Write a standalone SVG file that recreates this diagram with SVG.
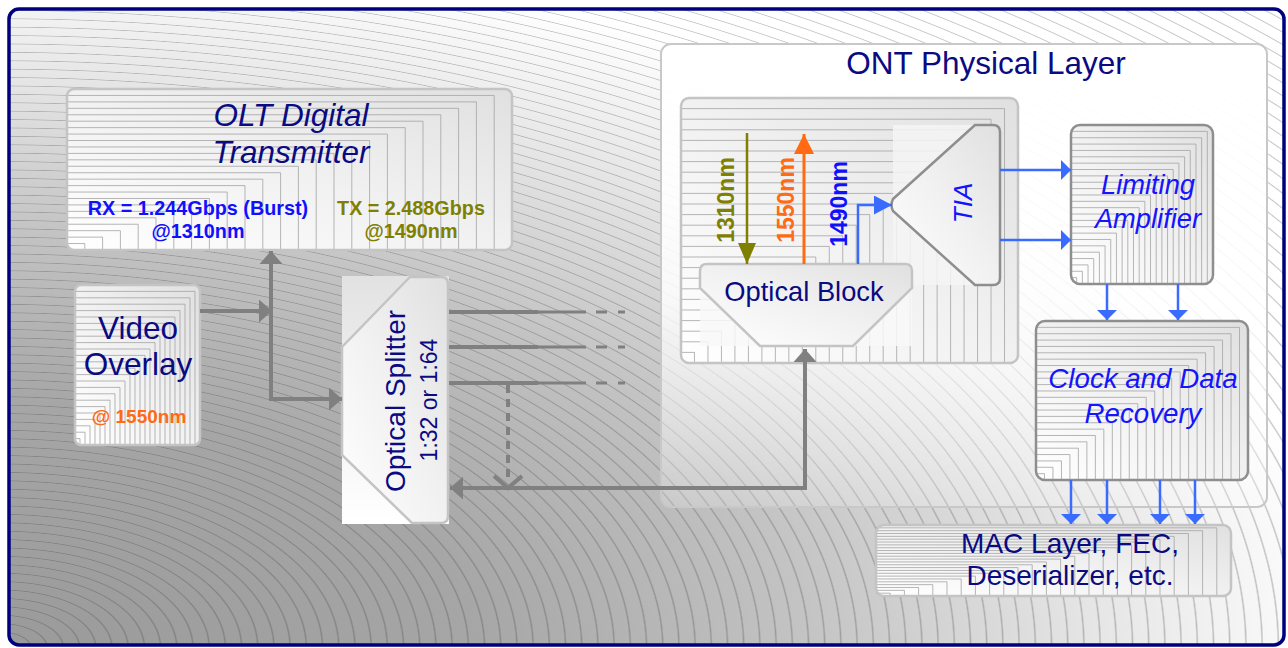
<svg xmlns="http://www.w3.org/2000/svg" width="1288" height="648" viewBox="0 0 1288 648">
<defs>
<radialGradient id="bg" gradientUnits="userSpaceOnUse" cx="0" cy="0" r="1" gradientTransform="translate(0,648) scale(1350,700)">
<stop offset="0" stop-color="#9a9a9a"/>
<stop offset="0.35" stop-color="#a6a6a6"/>
<stop offset="0.6" stop-color="#c4c4c4"/>
<stop offset="0.8" stop-color="#e4e4e4"/>
<stop offset="1" stop-color="#ffffff"/>
</radialGradient>
<radialGradient id="rings" gradientUnits="userSpaceOnUse" cx="0" cy="0" r="0.012" spreadMethod="repeat" gradientTransform="translate(0,648) scale(1350,700)">
<stop offset="0" stop-color="#404040" stop-opacity="0"/>
<stop offset="0.82" stop-color="#404040" stop-opacity="0"/>
<stop offset="0.91" stop-color="#404040" stop-opacity="0.3"/>
<stop offset="1" stop-color="#404040" stop-opacity="0"/>
</radialGradient>
<linearGradient id="boxg" x1="0" y1="1" x2="1" y2="0">
<stop offset="0" stop-color="#ffffff"/>
<stop offset="0.5" stop-color="#f1f1f1"/>
<stop offset="1" stop-color="#e0e0e0"/>
</linearGradient>
<linearGradient id="vert" x1="0" y1="0" x2="0" y2="1">
<stop offset="0" stop-color="#e2e2e2"/>
<stop offset="1" stop-color="#ffffff"/>
</linearGradient>
<linearGradient id="ontg" x1="0" y1="0" x2="0" y2="1">
<stop offset="0" stop-color="#ffffff" stop-opacity="1"/>
<stop offset="0.55" stop-color="#ffffff" stop-opacity="0.85"/>
<stop offset="1" stop-color="#ffffff" stop-opacity="0.2"/>
</linearGradient>
<symbol id="nest" viewBox="0 0 100 100" preserveAspectRatio="none" overflow="hidden">
<path d="M0,4H96V100M0,8H92V100M0,12H88V100M0,16H84V100M0,20H80V100M0,24H76V100M0,28H72V100M0,32H68V100M0,36H64V100M0,40H60V100M0,44H56V100M0,48H52V100M0,52H48V100M0,56H44V100M0,60H40V100M0,64H36V100M0,68H32V100M0,72H28V100M0,76H24V100M0,80H20V100M0,84H16V100M0,88H12V100M0,92H8V100M0,96H4V100" fill="none" stroke="#a4a4a4" stroke-opacity="0.8" stroke-width="1" vector-effect="non-scaling-stroke"/>
</symbol>
<clipPath id="cpSplit"><path d="M342,347 L410,277 L441,277 Q448,277 448,284 L448,516 Q448,523 441,523 L412,523 L342,455 Z"/></clipPath>
<clipPath id="cpTia"><path d="M893,199 L975,125 L993,125 Q1000,125 1000,132 L1000,278 Q1000,285 993,285 L975,285 L893,211 Q890,205 893,199 Z"/></clipPath>
<clipPath id="cpOb"><path d="M707,264 L905,264 Q912,264 912,271 L912,288 L853,346 L760,346 L700,288 L700,271 Q700,264 707,264 Z"/></clipPath>
<marker id="ag" markerUnits="userSpaceOnUse" markerWidth="13" markerHeight="23" refX="13" refY="11.5" orient="auto-start-reverse">
<path d="M0,0 L13,11.5 L0,23 Z" fill="#808080"/>
</marker>
<marker id="ab" markerUnits="userSpaceOnUse" markerWidth="10" markerHeight="20" refX="10" refY="10" orient="auto">
<path d="M0,0 L10,10 L0,20 Z" fill="#3a6bff"/>
</marker>
<marker id="ab2" markerUnits="userSpaceOnUse" markerWidth="18" markerHeight="19" refX="18" refY="9.5" orient="auto">
<path d="M0,0 L18,9.5 L0,19 Z" fill="#3a6bff"/>
</marker>
<marker id="ao" markerUnits="userSpaceOnUse" markerWidth="21" markerHeight="18" refX="21" refY="9" orient="auto">
<path d="M0,0 L21,9 L0,18 Z" fill="#7f7f00"/>
</marker>
<marker id="ar" markerUnits="userSpaceOnUse" markerWidth="20" markerHeight="20" refX="20" refY="10" orient="auto">
<path d="M0,0 L20,10 L0,20 Z" fill="#ff6a13"/>
</marker>
</defs>
<style>
text{font-family:"Liberation Sans",Arial,sans-serif}
.fillg{fill:url(#boxg)}
.edge{fill:none;stroke:#c4c4c4;stroke-width:2.5}
.dedge{fill:none;stroke:#8e8e8e;stroke-width:2.5}
.navy{fill:#0a0a82}
.blue{fill:#1414ff}
.it{font-style:italic}
.gl{fill:none;stroke:#808080;stroke-width:4}
.bl{fill:none;stroke:#3a6bff;stroke-width:2.5}
.mid{text-anchor:middle}
</style>
<rect x="0" y="0" width="1288" height="648" fill="#ffffff"/>
<g id="background">
<rect x="9" y="9" width="1275" height="636" rx="10" fill="url(#bg)"/>
<rect x="9" y="9" width="1275" height="636" rx="10" fill="url(#rings)"/>
</g>
<g id="ont-layer">
<rect x="661" y="44" width="606" height="463" rx="10" fill="url(#ontg)" stroke="#c8c8c8" stroke-width="2"/>
<text x="986" y="74" class="mid navy" font-size="31.5">ONT Physical Layer</text>
</g>
<g id="olt">
<rect x="67" y="89" width="445" height="161" rx="7" class="fillg"/>
<use href="#nest" x="67" y="89" width="445" height="161"/>
<rect x="67" y="89" width="445" height="161" rx="7" class="edge"/>
<text x="291" y="126" class="mid navy it" font-size="31.5">OLT Digital</text>
<text x="291" y="163" class="mid navy it" font-size="31.5">Transmitter</text>
<text x="198" y="215" class="mid" font-size="19.8" font-weight="bold" fill="#1010ff">RX = 1.244Gbps (Burst)</text>
<text x="198" y="238" class="mid" font-size="19.8" font-weight="bold" fill="#1010ff">@1310nm</text>
<text x="411" y="215" class="mid" font-size="19.8" font-weight="bold" fill="#808000">TX = 2.488Gbps</text>
<text x="411" y="238" class="mid" font-size="19.8" font-weight="bold" fill="#808000">@1490nm</text>
</g>
<g id="video">
<rect x="75" y="285" width="125" height="160" rx="6" class="fillg"/>
<use href="#nest" x="75" y="285" width="125" height="160"/>
<rect x="75" y="285" width="125" height="160" rx="6" class="edge"/>
<text x="138" y="339" class="mid navy" font-size="31.5">Video</text>
<text x="138" y="375" class="mid navy" font-size="31.5">Overlay</text>
<text x="139" y="423" class="mid" font-size="19" font-weight="bold" fill="#ff6a13">@ 1550nm</text>
</g>
<g id="splitter">
<rect x="342" y="276" width="107" height="248" fill="url(#vert)"/>
<path d="M342,347 L410,277 L441,277 Q448,277 448,284 L448,516 Q448,523 441,523 L412,523 L342,455 Z" class="fillg"/>
<use href="#nest" x="342" y="276" width="107" height="248" clip-path="url(#cpSplit)"/>
<path d="M342,347 L410,277 L441,277 Q448,277 448,284 L448,516 Q448,523 441,523 L412,523 L342,455 Z" class="edge"/>
<text transform="translate(405,401) rotate(-90)" class="mid navy" font-size="28">Optical Splitter</text>
<text transform="translate(437,400) rotate(-90)" class="mid navy" font-size="23">1:32 or 1:64</text>
</g>
<g id="optical-panel">
<rect x="681" y="98" width="337" height="265" rx="8" class="fillg"/>
<use href="#nest" x="681" y="98" width="337" height="265"/>
<rect x="681" y="98" width="337" height="265" rx="8" class="edge" stroke-width="2"/>
</g>
<g id="tia">
<rect x="893" y="125" width="107" height="160" fill="#f4f4f4" opacity="0.85"/>
<path d="M893,199 L975,125 L993,125 Q1000,125 1000,132 L1000,278 Q1000,285 993,285 L975,285 L893,211 Q890,205 893,199 Z" class="fillg"/>
<use href="#nest" x="893" y="125" width="107" height="160" clip-path="url(#cpTia)"/>
<path d="M893,199 L975,125 L993,125 Q1000,125 1000,132 L1000,278 Q1000,285 993,285 L975,285 L893,211 Q890,205 893,199 Z" class="dedge"/>
<text transform="translate(972,203) rotate(-90)" class="mid blue it" font-size="26">TIA</text>
</g>
<g id="optical-block">
<rect x="700" y="264" width="212" height="82" fill="#f8f8f8" opacity="0.85"/>
<path d="M707,264 L905,264 Q912,264 912,271 L912,288 L853,346 L760,346 L700,288 L700,271 Q700,264 707,264 Z" class="fillg"/>
<use href="#nest" x="700" y="264" width="212" height="82" clip-path="url(#cpOb)"/>
<path d="M707,264 L905,264 Q912,264 912,271 L912,288 L853,346 L760,346 L700,288 L700,271 Q700,264 707,264 Z" class="edge" stroke="#b0b0b0"/>
<text x="804" y="301" class="mid navy" font-size="27.3">Optical Block</text>
</g>
<g id="wavelengths">
<path d="M747,133 V264" fill="none" stroke="#7f7f00" stroke-width="2.5" marker-end="url(#ao)"/>
<path d="M804,264 V134" fill="none" stroke="#ff6a13" stroke-width="3" marker-end="url(#ar)"/>
<path d="M858,264 V205 H892" class="bl" marker-end="url(#ab2)"/>
<text transform="translate(734,200) rotate(-90)" class="mid" font-size="23" font-weight="bold" fill="#7f7f00">1310nm</text>
<text transform="translate(794,200) rotate(-90)" class="mid" font-size="23" font-weight="bold" fill="#ff6a13">1550nm</text>
<text transform="translate(847,204) rotate(-90)" class="mid" font-size="23" font-weight="bold" fill="#1010ff">1490nm</text>
</g>
<g id="limiting-amp">
<rect x="1071" y="125" width="142" height="159" rx="9" class="fillg"/>
<use href="#nest" x="1071" y="125" width="142" height="159"/>
<rect x="1071" y="125" width="142" height="159" rx="9" class="dedge"/>
<text x="1148" y="194" class="mid blue it" font-size="27.3">Limiting</text>
<text x="1148" y="228" class="mid blue it" font-size="27.3">Amplifier</text>
</g>
<g id="cdr">
<rect x="1036" y="321" width="212" height="159" rx="9" class="fillg"/>
<use href="#nest" x="1036" y="321" width="212" height="159"/>
<rect x="1036" y="321" width="212" height="159" rx="9" class="dedge"/>
<text x="1143" y="388" class="mid blue it" font-size="27.7">Clock and Data</text>
<text x="1143" y="423" class="mid blue it" font-size="27.7">Recovery</text>
</g>
<g id="mac">
<rect x="876" y="525" width="355" height="71" rx="8" class="fillg"/>
<use href="#nest" x="876" y="525" width="355" height="71"/>
<rect x="876" y="525" width="355" height="71" rx="8" class="edge"/>
<text x="1070" y="553" class="mid navy" font-size="28">MAC Layer, FEC,</text>
<text x="1070" y="585" class="mid navy" font-size="28">Deserializer, etc.</text>
</g>
<g id="connectors">
<path d="M200,311 H272" class="gl" marker-end="url(#ag)"/>
<path d="M271,251 V399 H342" class="gl" marker-start="url(#ag)" marker-end="url(#ag)"/>
<path d="M805,349 V488 H450" class="gl" marker-start="url(#ag)" marker-end="url(#ag)"/>
<path d="M449,312 H538 M449,347 H538 M449,383 H538" class="gl"/>
<path d="M538,312 H586 M538,347 H586 M538,383 H586" fill="none" stroke="#808080" stroke-width="3"/>
<path d="M596,312 H607 M618,312 H625 M596,347 H607 M618,347 H625 M596,383 H607 M618,383 H625" fill="none" stroke="#808080" stroke-width="3"/>
<path d="M508,385 V480" class="gl" stroke-dasharray="8,6"/>
<path d="M494,476 L508,488 L522,476" class="gl"/>
<path d="M1000,170 H1071" class="bl" marker-end="url(#ab)"/>
<path d="M1000,240 H1071" class="bl" marker-end="url(#ab)"/>
<path d="M1107,284 V320" class="bl" marker-end="url(#ab)"/>
<path d="M1178,284 V320" class="bl" marker-end="url(#ab)"/>
<path d="M1071,480 V524" class="bl" marker-end="url(#ab)"/>
<path d="M1107,480 V524" class="bl" marker-end="url(#ab)"/>
<path d="M1160,480 V524" class="bl" marker-end="url(#ab)"/>
<path d="M1195,480 V524" class="bl" marker-end="url(#ab)"/>
</g>
<rect x="9" y="9" width="1275" height="636" rx="10" fill="none" stroke="#00007f" stroke-width="3.5"/>
</svg>
